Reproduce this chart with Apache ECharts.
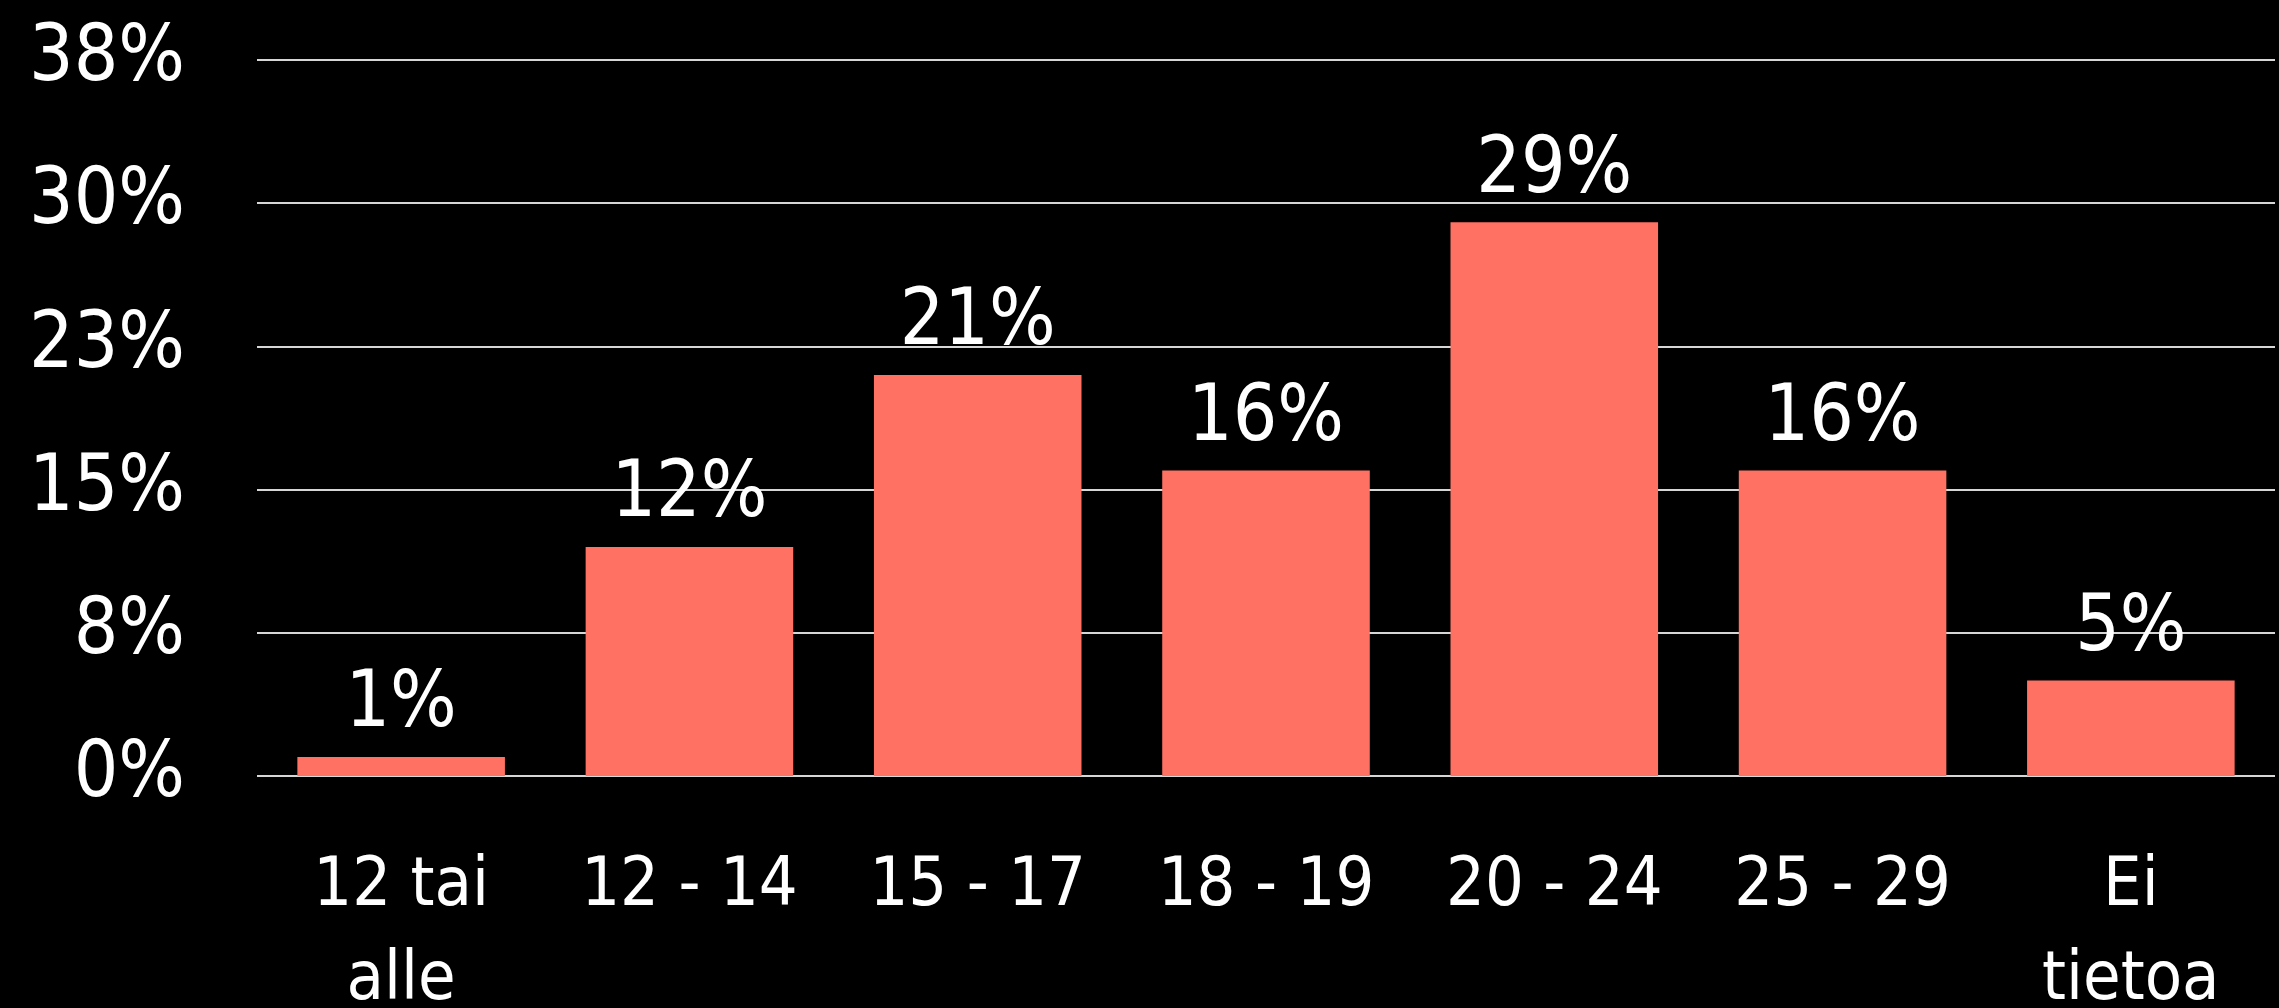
<!DOCTYPE html>
<html>
<head>
<meta charset="utf-8">
<script src="https://cdn.jsdelivr.net/npm/echarts@6/dist/echarts.min.js"></script>
<style>
    html, body { margin: 0; padding: 0; background: #000; }
    #chart { width: 2279px; height: 1008px; }
</style>
</head>
<body>
<div id="chart"></div>
<script>
// age groups and share of respondents (%)
var categories = ['12 tai\nalle', '12 - 14', '15 - 17', '18 - 19', '20 - 24', '25 - 29', 'Ei\ntietoa'];
var shares = [1, 12, 21, 16, 29, 16, 5];

var font = "'Liberation Sans Narrow', 'DejaVu Sans Condensed', 'Roboto', sans-serif";

var chart = echarts.init(document.getElementById('chart'));

chart.setOption({
    animation: false,
    backgroundColor: '#000',
    grid: {
        left: 257,
        right: 4,
        top: 60,
        bottom: 232,
        outerBoundsMode: 'none'
    },
    xAxis: {
        type: 'category',
        data: categories,
        axisLine: { show: false },
        axisTick: { show: false },
        axisLabel: {
            color: '#fff',
            fontFamily: font,
            fontSize: 68,
            lineHeight: 94,
            margin: 64,
            interval: 0
        }
    },
    yAxis: {
        type: 'value',
        min: 0,
        max: 37.5,
        interval: 7.5,
        axisLine: { show: false },
        axisTick: { show: false },
        splitLine: {
            lineStyle: { color: '#d6d6d6', width: 2 }
        },
        axisLabel: {
            color: '#fff',
            fontFamily: font,
            fontSize: 78,
            margin: 72,
            formatter: function (v) {
                return Math.round(v) + '%';
            }
        }
    },
    series: [
        {
            type: 'bar',
            data: shares,
            barCategoryGap: '28%',
            itemStyle: { color: '#ff7163' },
            label: {
                show: true,
                position: 'top',
                distance: 12,
                color: '#fff',
                fontFamily: font,
                fontSize: 78,
                formatter: '{c}%'
            }
        }
    ]
});
</script>
</body>
</html>
